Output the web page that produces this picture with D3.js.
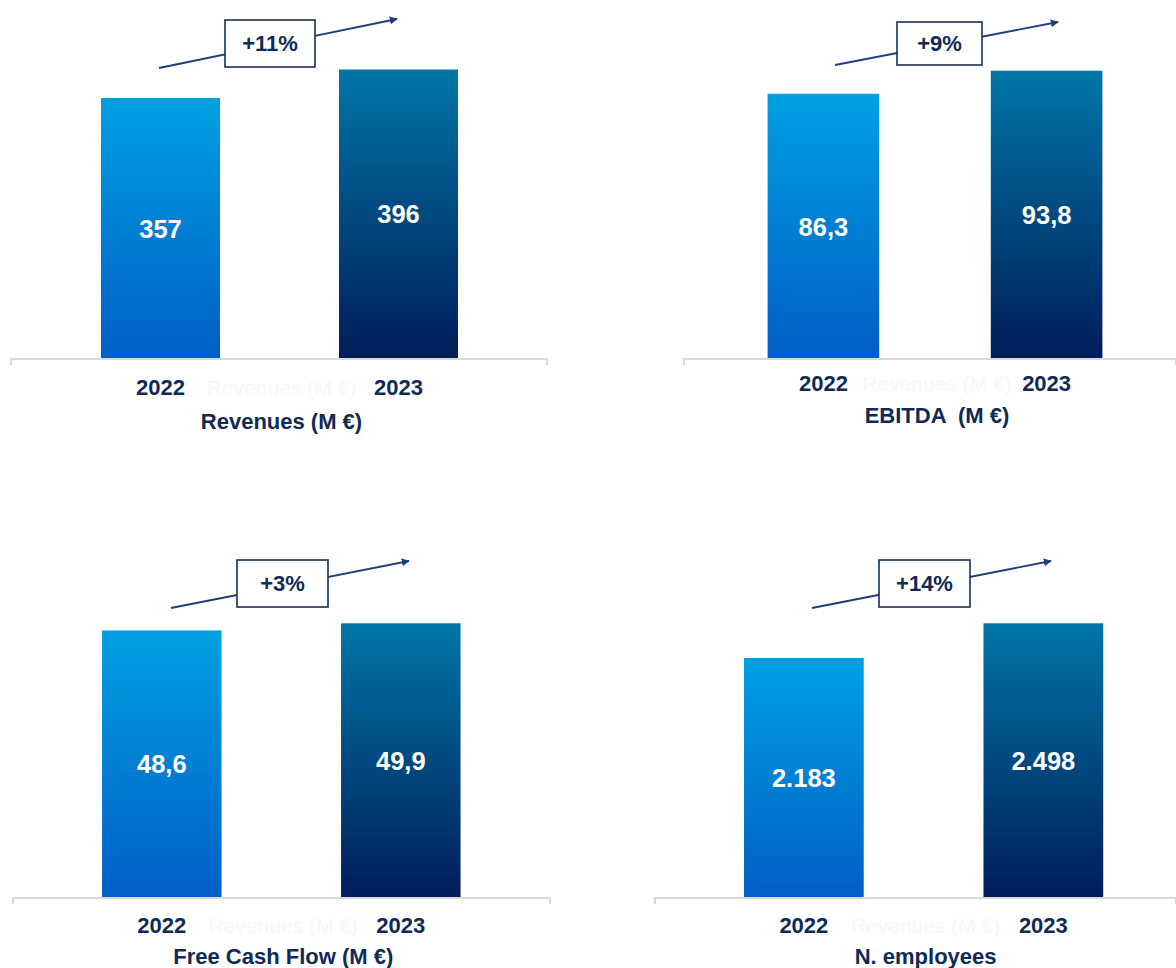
<!DOCTYPE html>
<html>
<head>
<meta charset="utf-8">
<script src="https://cdn.jsdelivr.net/npm/d3@7"></script>
<style>
  html, body { margin: 0; padding: 0; background: #ffffff; }
  svg { display: block; font-family: "Liberation Sans", Arial, sans-serif; }
  text { white-space: pre; }
</style>
</head>
<body>
<svg id="chart" width="1176" height="968"></svg>
<script>
// ---- data ----
const categories = ["2022", "2023"];
const titles = ["Revenues (M €)", "EBITDA  (M €)", "Free Cash Flow (M €)", "N. employees"];
const revenues = [357, 396];
const ebitda = [86.3, 93.8];
const freeCashFlow = [48.6, 49.9];
const employees = [2183, 2498];
const valueFormats = [",d", ",.1f", ",.1f", ",d"];

// ---- layout of the four small charts ----
const layouts = [
  { range: [41.5, 517.5],  base: 359, top: 69.5,  axis: [11, 547],   yearY: 387, titleY: 421,
    box: [225, 20, 90, 47],  arrow: [[159, 68], [397, 19]] },
  { range: [711.8, 1158.2], base: 359, top: 70.7, axis: [684, 1176], yearY: 383, titleY: 415,
    box: [897, 22, 85, 43],  arrow: [[835, 65], [1058, 22]] },
  { range: [42.3, 520.3],  base: 898, top: 623.3, axis: [13, 550],   yearY: 925, titleY: 956,
    box: [237, 560, 91, 47], arrow: [[171, 608], [409, 561]] },
  { range: [684.1, 1163.1], base: 898, top: 623.3, axis: [655, 1176], yearY: 925, titleY: 956,
    box: [879, 560, 91, 47], arrow: [[812, 608], [1051, 561]] }
];

const seriesList = [revenues, ebitda, freeCashFlow, employees];

const locale = d3.formatLocale({ decimal: ",", thousands: ".", grouping: [3], currency: ["", "€"] });
const growthFormat = d3.format("+.0%");

const navy = "#0e2a55";
const arrowColor = "#1f3d7c";

const svg = d3.select("#chart");
const defs = svg.append("defs");

// gradients for the two years
function addGradient(id, top, bottom) {
  const g = defs.append("linearGradient").attr("id", id)
    .attr("x1", 0).attr("y1", 0).attr("x2", 0).attr("y2", 1);
  g.append("stop").attr("offset", "0%").attr("stop-color", top);
  g.append("stop").attr("offset", "100%").attr("stop-color", bottom);
}
addGradient("grad2022", "#00a0e2", "#005fc5");
addGradient("grad2023", "#0076a7", "#001d5a");
const barFill = { "2022": "url(#grad2022)", "2023": "url(#grad2023)" };

defs.append("marker")
  .attr("id", "arrowHead")
  .attr("viewBox", "0 0 10 10")
  .attr("refX", 9).attr("refY", 5)
  .attr("markerWidth", 8).attr("markerHeight", 8)
  .attr("markerUnits", "userSpaceOnUse")
  .attr("orient", "auto")
  .append("path")
  .attr("d", "M0,0 L10,5 L0,10 Z")
  .attr("fill", arrowColor);

seriesList.forEach((values, i) => {
  const L = layouts[i];
  const data = categories.map((c, k) => ({ year: c, value: values[k] }));
  const g = svg.append("g");

  const x = d3.scaleBand().domain(categories).range(L.range)
    .paddingInner(0.5).paddingOuter(0.25);
  const y = d3.scaleLinear().domain([0, d3.max(values)]).range([L.base, L.top]);

  // baseline with small end ticks
  g.append("path")
    .attr("d", `M${L.axis[0]},${L.base + 6}V${L.base}H${L.axis[1]}V${L.base + 6}`)
    .attr("fill", "none")
    .attr("stroke", "#d9d9d9")
    .attr("stroke-width", 2);

  // bars
  g.selectAll("rect.bar").data(data).join("rect")
    .attr("class", "bar")
    .attr("x", d => x(d.year))
    .attr("width", x.bandwidth())
    .attr("y", d => y(d.value))
    .attr("height", d => y(0) - y(d.value) - 1)
    .attr("fill", d => barFill[d.year]);

  // values inside bars
  const fmt = locale.format(valueFormats[i]);
  g.selectAll("text.val").data(data).join("text")
    .attr("class", "val")
    .attr("x", d => x(d.year) + x.bandwidth() / 2)
    .attr("y", d => (y(d.value) + y(0)) / 2)
    .attr("dy", "0.36em")
    .attr("text-anchor", "middle")
    .attr("fill", "#ffffff")
    .attr("font-weight", "bold")
    .attr("font-size", 25.5)
    .text(d => fmt(d.value));

  // faint watermark label between the years
  const cx = (x(categories[0]) + x(categories[1]) + x.bandwidth()) / 2;
  g.append("text")
    .attr("x", cx + 2)
    .attr("y", L.yearY)
    .attr("dy", "0.36em")
    .attr("text-anchor", "middle")
    .attr("fill", "#f7f8fa")
    .attr("font-size", 21)
    .text(titles[0]);

  // year labels
  const axis = d3.axisBottom(x).tickSize(0).tickPadding(0);
  const ax = g.append("g")
    .attr("transform", `translate(0,${L.yearY})`)
    .call(axis);
  ax.select(".domain").remove();
  ax.selectAll("text")
    .attr("dy", "0.36em")
    .attr("y", 0)
    .attr("fill", navy)
    .attr("font-size", 22)
    .attr("font-weight", "bold")
    .attr("font-family", "Liberation Sans, Arial, sans-serif");

  // chart title
  g.append("text")
    .attr("x", cx + 2)
    .attr("y", L.titleY)
    .attr("dy", "0.36em")
    .attr("text-anchor", "middle")
    .attr("fill", navy)
    .attr("font-size", 22)
    .attr("font-weight", "bold")
    .text(titles[i]);

  // growth arrow and box
  g.append("line")
    .attr("x1", L.arrow[0][0]).attr("y1", L.arrow[0][1])
    .attr("x2", L.arrow[1][0]).attr("y2", L.arrow[1][1])
    .attr("stroke", arrowColor)
    .attr("stroke-width", 1.8)
    .attr("marker-end", "url(#arrowHead)");

  const [bx, by, bw, bh] = L.box;
  g.append("rect")
    .attr("x", bx).attr("y", by).attr("width", bw).attr("height", bh)
    .attr("fill", "#ffffff")
    .attr("stroke", "#1b2d52")
    .attr("stroke-width", 1.6);

  g.append("text")
    .attr("x", bx + bw / 2)
    .attr("y", by + bh / 2)
    .attr("dy", "0.36em")
    .attr("text-anchor", "middle")
    .attr("fill", navy)
    .attr("font-size", 22)
    .attr("font-weight", "bold")
    .text(growthFormat(values[1] / values[0] - 1));
});
</script>
</body>
</html>
